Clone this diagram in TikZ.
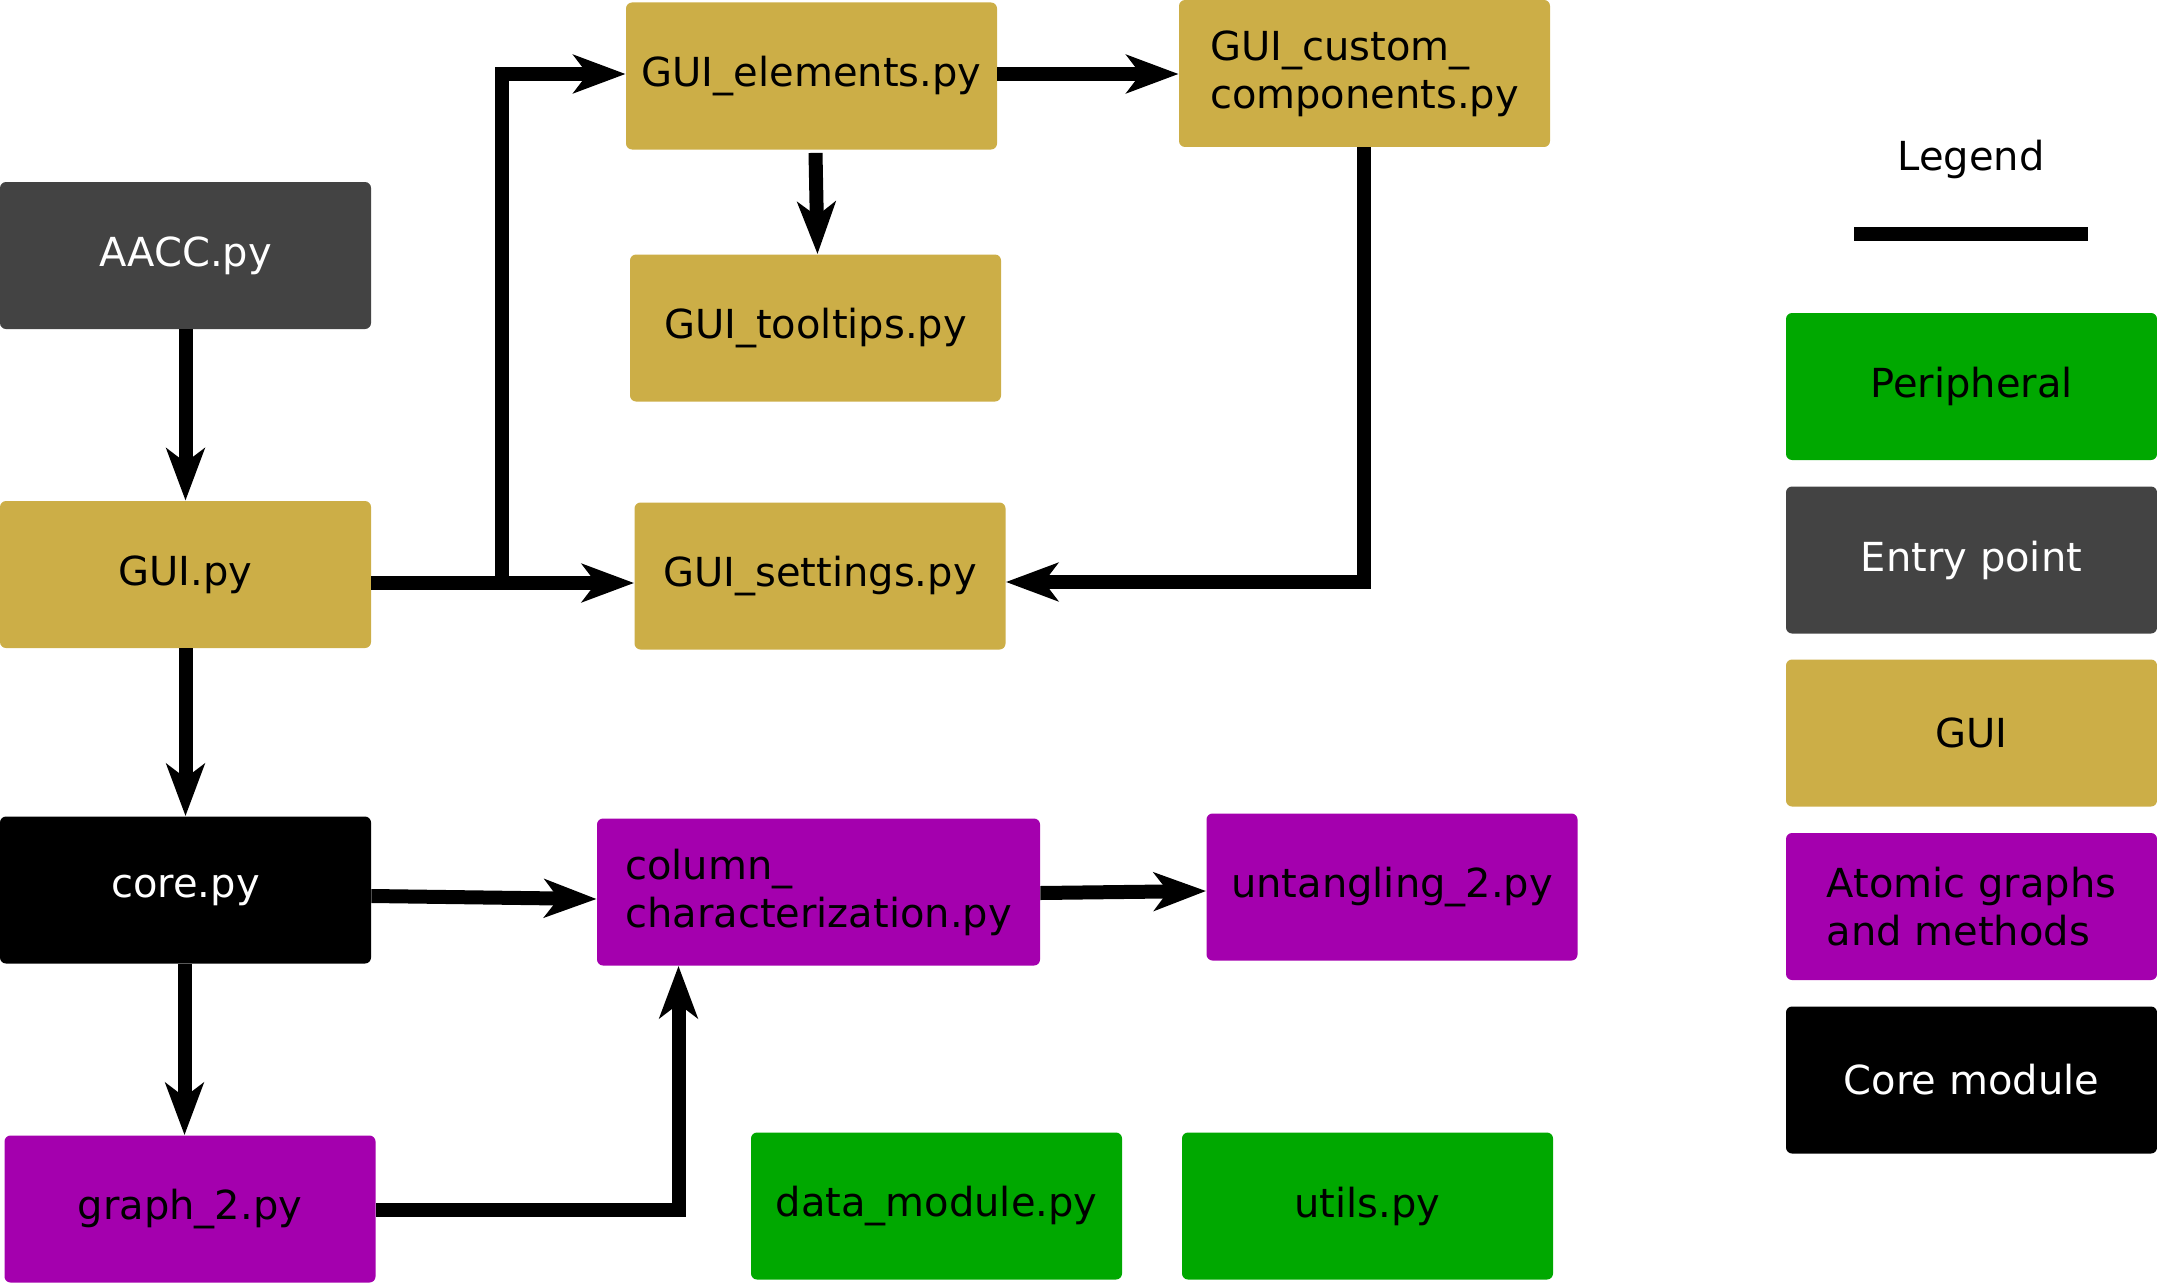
\documentclass[tikz,border=0pt]{standalone}
\usepackage{fontspec}
\setmainfont{DejaVu Sans}
\usetikzlibrary{arrows.meta,calc}
\definecolor{gold}{RGB}{204,174,71}
\definecolor{dgrey}{RGB}{67,67,67}
\definecolor{purp}{RGB}{164,0,174}
\definecolor{grn}{RGB}{0,168,0}
\tikzset{
  box/.style={rectangle, rounded corners=3pt, inner sep=0pt, minimum width=185.5pt, minimum height=73.5pt, font=\fontsize{20pt}{24pt}\selectfont, align=center},
  guibox/.style={box, fill=gold, text=black},
  entrybox/.style={box, fill=dgrey, text=white},
  corebox/.style={box, fill=black, text=white},
  atombox/.style={box, fill=purp, text=black},
  periphbox/.style={box, fill=grn, text=black},
  conn/.style={line width=7pt, draw=black, -{Stealth[length=26pt,width=19pt,inset=7pt]}},
}
\begin{document}
\begin{tikzpicture}[x=0.5pt,y=-0.5pt]
\useasboundingbox (0,0) rectangle (2157,1284);
% nodes
\node[entrybox] (aacc) at (185.5,255.5) {AACC.py};
\node[guibox] (gui) at (185.5,574.5) {GUI.py};
\node[corebox] (core) at (185.5,890) {core.py};
\node[atombox] (graph) at (190,1209) {graph\_2.py};
\node[guibox] (guiel) at (811.5,76) {GUI\_elements.py};
\node[guibox, align=left] (guicust) at (1364.5,73.5) {GUI\_custom\_\\components.py};
\node[guibox] (tooltips) at (815.5,328) {GUI\_tooltips.py};
\node[guibox] (settings) at (820,576) {GUI\_settings.py};
\node[atombox, minimum width=221.5pt, align=left] (colchar) at (818.5,892) {column\_\\characterization.py};
\node[atombox] (untang) at (1392,887) {untangling\_2.py};
\node[periphbox] (data) at (936.5,1206) {data\_module.py};
\node[periphbox] (utils) at (1367.5,1206) {utils.py};
% legend
\node[font=\fontsize{20pt}{24pt}\selectfont] (legtitle) at (1971,159) {Legend};
\coordinate (legA) at (1854,234);
\coordinate (legB) at (2088,234);
\draw[line width=7pt] (legA) -- (legB);
\node[periphbox] (lperiph) at (1971.5,386.5) {Peripheral};
\node[entrybox] (lentry) at (1971.5,560) {Entry point};
\node[guibox] (lgui) at (1971.5,733) {GUI};
\node[atombox, align=left] (latom) at (1971.5,906.5) {Atomic graphs\\and methods};
\node[corebox] (lcore) at (1971.5,1080) {Core module};
% connectors
\draw[conn] (aacc.south) -- (gui.north);
\coordinate (branch) at (502,583);
\draw[conn] (gui.east |- branch) -- (settings.west |- branch);
\draw[conn] (branch) |- (guiel.west |- {(0,74)});
\draw[conn] (guiel.east |- {(0,74)}) -- (guicust.west |- {(0,74)});
\draw[conn] ($(guiel.south)+(4,3)$) -- ($(tooltips.north)+(2,0)$);
\draw[conn] (guicust.south -| {(1364,0)}) |- (settings.east |- {(0,582)});
\draw[conn] (gui.south) -- (core.north);
\draw[conn] (core.east |- {(0,896)}) -- (colchar.west |- {(0,899)});
\draw[conn] (core.south -| {(184.5,0)}) -- (graph.north -| {(184.5,0)});
\draw[conn] (graph.east |- {(0,1210)}) -| (colchar.south -| {(678.5,0)});
\draw[conn] (colchar.east |- {(0,893)}) -- (untang.west |- {(0,891)});
\end{tikzpicture}
\end{document}
